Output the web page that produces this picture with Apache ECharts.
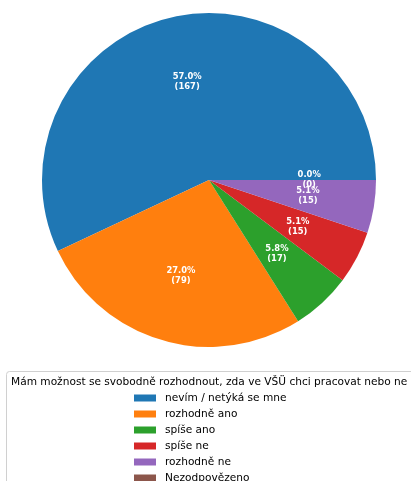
<!DOCTYPE html>
<html>
<head>
<meta charset="utf-8">
<script src="https://cdn.jsdelivr.net/npm/echarts@6/dist/echarts.min.js"></script>
<style>
  html, body { margin: 0; padding: 0; background: #fff; }
  #chart { width: 411px; height: 481px; }
</style>
</head>
<body>
<div id="chart"></div>
<script>
// answers + counts
const categories = ["nevím / netýká se mne", "rozhodně ano", "spíše ano", "spíše ne", "rozhodně ne", "Nezodpovězeno"];
const counts = [167, 79, 17, 15, 15, 0];
const colors = ["#1f77b4", "#ff7f0e", "#2ca02c", "#d62728", "#9467bd", "#8c564b"];
const legendTitle = "Mám možnost se svobodně rozhodnout, zda ve VŠÜ chci pracovat nebo ne";

(function () {
  const chart = echarts.init(document.getElementById("chart"), null, { renderer: "canvas" });
  const total = counts.reduce((a, b) => a + b, 0);
  const FONT = "DejaVu Sans";
  const CX = 209, CY = 180, R = 167;

  const data = categories.map((name, i) => ({
    name,
    value: counts[i],
    itemStyle: { color: colors[i] }
  }));

  // start of every slice (as share of total), counter-clockwise from 3 o'clock
  const starts = [];
  counts.reduce((acc, v) => { starts.push(acc); return acc + v; }, 0);

  // autopct-style labels at 0.6 r; pie skips labels for zero slices, so draw them here
  function renderLabel(params, api) {
    const i = api.value(0);
    const v = api.value(1);
    const mid = (starts[i] + v / 2) / total * Math.PI * 2;
    const pct = (v / total * 100).toFixed(1);
    return {
      type: "text",
      x: CX + 0.6 * R * Math.cos(mid),
      y: CY - 0.6 * R * Math.sin(mid),
      style: {
        text: pct + "%\n(" + v + ")",
        font: "bold 8.4px '" + FONT + "'",
        fill: "#fff",
        align: "center",
        verticalAlign: "middle",
        lineHeight: 10
      }
    };
  }

  const option = {
    animation: false,
    backgroundColor: "#fff",
    graphic: [
      {
        type: "rect",
        shape: { x: 6.5, y: 371.5, width: 420, height: 130, r: 3 },
        style: { fill: "#fff", stroke: "#d0d0d0", lineWidth: 1 },
        z: 0
      },
      {
        type: "text",
        x: 11, y: 382,
        style: {
          text: legendTitle,
          font: "10.6px '" + FONT + "'",
          fill: "#000",
          verticalAlign: "middle"
        },
        z: 1
      }
    ],
    legend: {
      orient: "vertical",
      left: 134,
      top: 392,
      height: 140,
      padding: 0,
      itemWidth: 22,
      itemHeight: 7,
      itemGap: 4,
      icon: "rect",
      data: categories,
      textStyle: { fontFamily: FONT, fontSize: 10.6, color: "#000", lineHeight: 12, padding: [0, 0, 0, 4] },
      selectedMode: false
    },
    series: [
      {
        type: "pie",
        center: [CX, CY],
        radius: [0, R],
        startAngle: 0,
        clockwise: false,
        avoidLabelOverlap: false,
        label: { show: false },
        labelLine: { show: false },
        emphasis: { disabled: true },
        silent: true,
        data: data
      },
      {
        type: "custom",
        coordinateSystem: "none",
        silent: true,
        z: 3,
        renderItem: renderLabel,
        data: counts.map((v, i) => [i, v])
      }
    ]
  };

  chart.setOption(option, true);
})();
</script>
</body>
</html>
